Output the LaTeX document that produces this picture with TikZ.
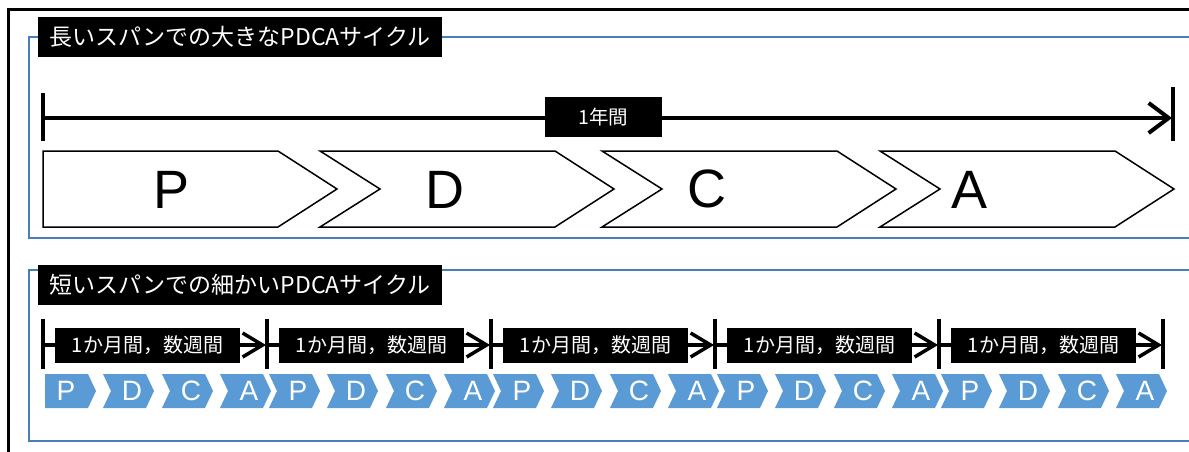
\documentclass[tikz,border=0pt]{standalone}
\usepackage{fontspec}
\setmainfont{Liberation Sans}
\newfontfamily\jp{Noto Sans CJK JP}
\usetikzlibrary{arrows.meta,calc}
\definecolor{frameblue}{RGB}{74,126,187}
\definecolor{chevblue}{RGB}{91,155,213}
\begin{document}
\begin{tikzpicture}[x=1pt,y=-1pt,
  outerframe/.style={draw=black,line width=2.5pt},
  blueframe/.style={draw=frameblue,line width=1.5pt},
  titlebox/.style={fill=black,text=white,minimum width=404pt,minimum height=40pt,inner sep=0pt,font=\jp\fontsize{23}{27}\selectfont},
  yearbox/.style={fill=black,text=white,minimum width=117pt,minimum height=40pt,inner sep=0pt,font=\jp\fontsize{19.5}{22}\selectfont},
  spanbox/.style={fill=black,text=white,minimum width=185pt,minimum height=35pt,inner sep=0pt,font=\jp\fontsize{20}{22}\selectfont},
  bigline/.style={draw=black,line width=4pt,-{Straight Barb[length=20pt,width=30pt]}},
  bigtick/.style={draw=black,line width=4pt},
  smallline/.style={draw=black,line width=3.5pt,-{Straight Barb[length=20pt,width=24pt]}},
  smalltick/.style={draw=black,line width=3.5pt},
  bigchev/.style={draw=black,line width=1.5pt,fill=white},
  bigletter/.style={font=\fontsize{54}{60}\selectfont,inner sep=0pt},
  smallchev/.style={fill=chevblue},
  smallletter/.style={text=white,font=\fontsize{28}{30}\selectfont,inner sep=0pt}]
\useasboundingbox (0,0) rectangle (1189,452);
\clip (0,0) rectangle (1189,452);
% outer frame
\draw[outerframe] (8.5,470) -- (8.5,9.5) -- (1210,9.5);
% blue frames
\draw[blueframe] (29,37) rectangle (1210,238);
\draw[blueframe] (29,270) rectangle (1210,441);
% titles
\node[titlebox] (title1) at (240,37) {長いスパンでの大きなPDCAサイクル};
\node[titlebox] (title2) at (240,285) {短いスパンでの細かいPDCAサイクル};
% long timeline
\coordinate (ls) at (43,118);
\coordinate (le) at (1172,118);
\draw[bigtick] (43,93) -- (43,141);
\draw[bigtick] (1173,87) -- (1173,141);
\draw[bigline] (ls) -- (le);
\node[yearbox] (year) at (603.5,117) {1年間};
% big chevrons
\draw[bigchev] (43,151) -- ++(235,0) -- ++(59,38) -- ++(-59,38) -- ++(-235,0) -- cycle;
\foreach \x in {320,602,880}
  \draw[bigchev] (\x,151) -- ++(235,0) -- ++(59,38) -- ++(-59,38) -- ++(-235,0) -- ++(60,-38) -- cycle;
\node[bigletter] (bP) at (172,190) {P};
\node[bigletter] (bD) at (445,190) {D};
\node[bigletter] (bC) at (707,189) {C};
\node[bigletter] (bA) at (969,190) {A};
% short timelines
\foreach \k in {0,...,5} {
  \coordinate (t\k) at ({43+224*\k},345);
  \draw[smalltick] ({43+224*\k},319) -- ({43+224*\k},369);
}
\foreach \k in {0,...,4} {
  \pgfmathtruncatemacro{\n}{\k+1}
  \draw[smallline] (t\k) -- ($(t\n)+(-1,0)$);
  \node[spanbox] (span\k) at ({43+224*\k+12+92.5},345.5) {1か月間，数週間};
}
% small chevrons
\foreach \g in {0,...,4} {
  \foreach \o/\L [count=\i] in {0/P,58/D,117/C,175/A} {
    \pgfmathsetmacro{\xx}{45+224*\g+\o}
    \ifnum\g\i=01
      \fill[smallchev] (\xx,374) -- ++(43,0) -- ++(8,17) -- ++(-8,17) -- ++(-43,0) -- cycle;
      \node[smallletter] (s\g\L) at (\xx+21,391) {\L};
    \else
      \fill[smallchev] (\xx,374) -- ++(43,0) -- ++(8,17) -- ++(-8,17) -- ++(-43,0) -- ++(8,-17) -- cycle;
      \node[smallletter] (s\g\L) at (\xx+29,391) {\L};
    \fi
  }
}
\end{tikzpicture}
\end{document}
